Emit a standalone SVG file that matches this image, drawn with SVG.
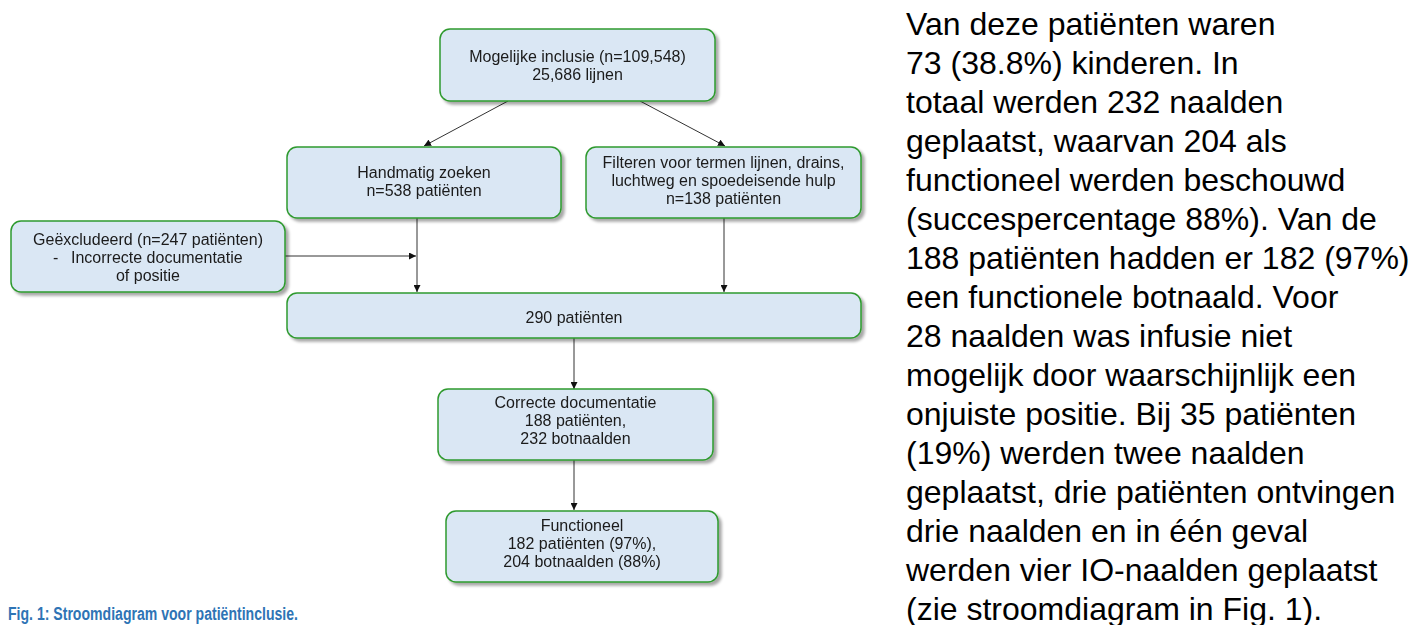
<svg xmlns="http://www.w3.org/2000/svg" width="1427" height="625" viewBox="0 0 1427 625">
<style>
.box{fill:#dae7f4;stroke:#2f9a2f;stroke-width:1.5}
.t{font-family:"Liberation Sans",Arial,sans-serif;font-size:16px;fill:#1a1a1a;text-anchor:middle}
.tl{font-family:"Liberation Sans",Arial,sans-serif;font-size:16px;fill:#1a1a1a}
.c{stroke:#333;stroke-width:1;fill:none;marker-end:url(#ah)}
.p{font-family:"Liberation Sans",Arial,sans-serif;font-size:32px;fill:#000}
.cap{font-family:"Liberation Sans",Arial,sans-serif;font-size:18px;font-weight:bold;fill:#2e74b5}
</style>
<defs>
<filter id="sh" x="-10%" y="-10%" width="125%" height="140%">
<feGaussianBlur in="SourceAlpha" stdDeviation="1.5"/>
<feOffset dx="3" dy="3" result="o"/>
<feComponentTransfer><feFuncA type="linear" slope="0.35"/></feComponentTransfer>
<feMerge><feMergeNode/><feMergeNode in="SourceGraphic"/></feMerge>
</filter>
<marker id="ah" viewBox="0 0 10 10" refX="10" refY="5" markerWidth="7" markerHeight="7" orient="auto" markerUnits="userSpaceOnUse">
<path d="M0,0 L10,5 L0,10 z" fill="#111"/>
</marker>
</defs>

<g id="connectors">
<line class="c" x1="508" y1="101" x2="424" y2="146"/>
<line class="c" x1="640" y1="101" x2="725" y2="146"/>
<line class="c" x1="285" y1="256" x2="416" y2="256"/>
<line class="c" x1="417" y1="218" x2="417" y2="292"/>
<line class="c" x1="724" y1="218" x2="724" y2="292"/>
<line class="c" x1="574" y1="338" x2="574" y2="389"/>
<line class="c" x1="574" y1="460" x2="574" y2="510"/>
</g>

<g id="n-inclusie" filter="url(#sh)">
<rect class="box" x="440" y="29" width="275" height="72" rx="10"/>
<text class="t" x="577.5" y="62">Mogelijke inclusie (n=109,548)</text>
<text class="t" x="577.5" y="80">25,686 lijnen</text>
</g>

<g id="n-handmatig" filter="url(#sh)">
<rect class="box" x="287" y="147" width="274" height="71" rx="10"/>
<text class="t" x="424" y="178">Handmatig zoeken</text>
<text class="t" x="424" y="196">n=538 patiënten</text>
</g>

<g id="n-filteren" filter="url(#sh)">
<rect class="box" x="586" y="147" width="275" height="71" rx="10"/>
<text class="t" x="723.5" y="168">Filteren voor termen lijnen, drains,</text>
<text class="t" x="723.5" y="186">luchtweg en spoedeisende hulp</text>
<text class="t" x="723.5" y="204">n=138 patiënten</text>
</g>

<g id="n-excl" filter="url(#sh)">
<rect class="box" x="11" y="221" width="274" height="71" rx="10"/>
<text class="t" x="148" y="245">Geëxcludeerd (n=247 patiënten)</text>
<text class="tl" y="263"><tspan x="53">-</tspan><tspan x="71">Incorrecte documentatie</tspan></text>
<text class="t" x="148" y="281">of positie</text>
</g>

<g id="n-290" filter="url(#sh)">
<rect class="box" x="287" y="293" width="574" height="45" rx="10"/>
<text class="t" x="574" y="323">290 patiënten</text>
</g>

<g id="n-correcte" filter="url(#sh)">
<rect class="box" x="438" y="389" width="275" height="71" rx="10"/>
<text class="t" x="575.5" y="408">Correcte documentatie</text>
<text class="t" x="575.5" y="426">188 patiënten,</text>
<text class="t" x="575.5" y="444">232 botnaalden</text>
</g>

<g id="n-functioneel" filter="url(#sh)">
<rect class="box" x="446" y="511" width="272" height="71" rx="10"/>
<text class="t" x="582" y="531">Functioneel</text>
<text class="t" x="582" y="549">182 patiënten (97%),</text>
<text class="t" x="582" y="567">204 botnaalden (88%)</text>
</g>

<text class="cap" x="8" y="620" textLength="290" lengthAdjust="spacingAndGlyphs">Fig. 1: Stroomdiagram voor patiëntinclusie.</text>

<g id="paragraph">
<text class="p" x="906" y="35">Van deze patiënten waren</text>
<text class="p" x="906" y="74">73 (38.8%) kinderen. In</text>
<text class="p" x="906" y="113">totaal werden 232 naalden</text>
<text class="p" x="906" y="152">geplaatst, waarvan 204 als</text>
<text class="p" x="906" y="191">functioneel werden beschouwd</text>
<text class="p" x="906" y="230">(succespercentage 88%). Van de</text>
<text class="p" x="906" y="269">188 patiënten hadden er 182 (97%)</text>
<text class="p" x="906" y="308">een functionele botnaald. Voor</text>
<text class="p" x="906" y="347">28 naalden was infusie niet</text>
<text class="p" x="906" y="386">mogelijk door waarschijnlijk een</text>
<text class="p" x="906" y="425">onjuiste positie. Bij 35 patiënten</text>
<text class="p" x="906" y="464">(19%) werden twee naalden</text>
<text class="p" x="906" y="503">geplaatst, drie patiënten ontvingen</text>
<text class="p" x="906" y="542">drie naalden en in één geval</text>
<text class="p" x="906" y="581">werden vier IO-naalden geplaatst</text>
<text class="p" x="906" y="620">(zie stroomdiagram in Fig. 1).</text>
</g>
</svg>
